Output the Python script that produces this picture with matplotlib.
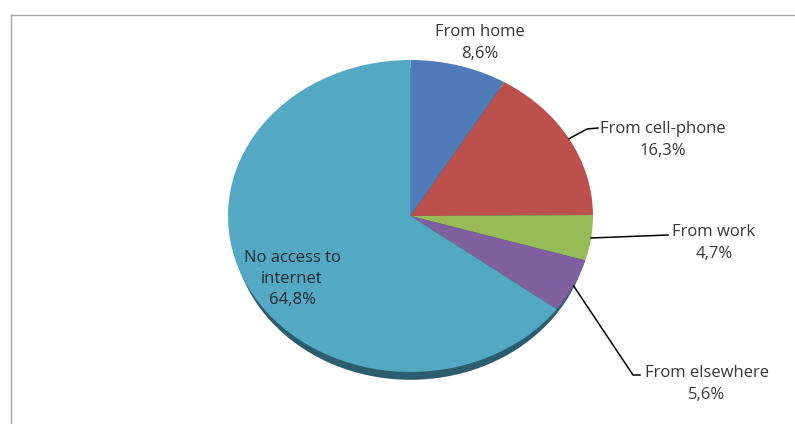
import numpy as np
import matplotlib
matplotlib.use("Agg")
import matplotlib.pyplot as plt
from matplotlib.lines import Line2D
from matplotlib.patches import Ellipse

categories = ["From home", "From cell-phone", "From work", "From elsewhere", "No access to\ninternet"]
shares = [8.6, 16.3, 4.7, 5.6, 64.8]
colors = ["#4f7bb8", "#bb504d", "#97bb57", "#7f5f9f", "#53a8c4"]

W, H = 795, 424
CX, CY, RX, RY = 410.5, 216, 182.5, 156

def to_data(px, py):
	return (px - CX) / RX, (CY - py) / RY

plt.rcParams['font.family'] = ['Open Sans', 'DejaVu Sans']

fig = plt.figure(figsize=(W / 100, H / 100), dpi=100)
ax = fig.add_axes([(CX - RX) / W, (H - CY - RY) / H, 2 * RX / W, 2 * RY / H])

# dark rim under the pie for the tilted look
ax.add_patch(Ellipse((0, -0.05), 2 * 0.98, 2, facecolor="#2c5d6e", edgecolor="none", clip_on=False))
wedges, _ = ax.pie(shares, colors=colors, radius=1, startangle=90, counterclock=False,
	wedgeprops=dict(linewidth=0))
ax.set_aspect('auto')
ax.set_xlim(-1, 1)
ax.set_ylim(-1, 1)
ax.axis('off')

def fmt(v):
	return ("%.1f%%" % v).replace(".", ",")

txt_color = "#383838"
fs = 12

# label text centres (px) and leader line elbows
label_pos = {
	0: (480, 43),
	1: (663, 140),
	2: (714, 243),
	3: (707, 384),
	4: (292, 279),
}
leader = {
	1: [(587, 129), (598, 128)],
	2: [(668, 235)],
	3: [(633, 375), (640, 375)],
}

for i, w in enumerate(wedges):
	mid = np.deg2rad((w.theta1 + w.theta2) / 2)
	tx, ty = to_data(*label_pos[i])
	ax.text(tx, ty, categories[i] + "\n" + fmt(shares[i]), ha="center", va="center",
		fontsize=fs, color="#1f2a30" if i == 4 else txt_color, linespacing=1.42, clip_on=False)
	if i in leader:
		xs = [np.cos(mid)]
		ys = [np.sin(mid)]
		for p in leader[i]:
			dx, dy = to_data(*p)
			xs.append(dx)
			ys.append(dy)
		ax.plot(xs, ys, color="black", lw=1.1, clip_on=False)

# chart frame, only top and left edges fall inside
fig.add_artist(Line2D([11 / W, 1], [1 - 15 / H, 1 - 15 / H], transform=fig.transFigure, color="#a6a6a6", lw=1))
fig.add_artist(Line2D([11 / W, 11 / W], [0, 1 - 15 / H], transform=fig.transFigure, color="#a6a6a6", lw=1))

fig.savefig("out.png", dpi=100)
